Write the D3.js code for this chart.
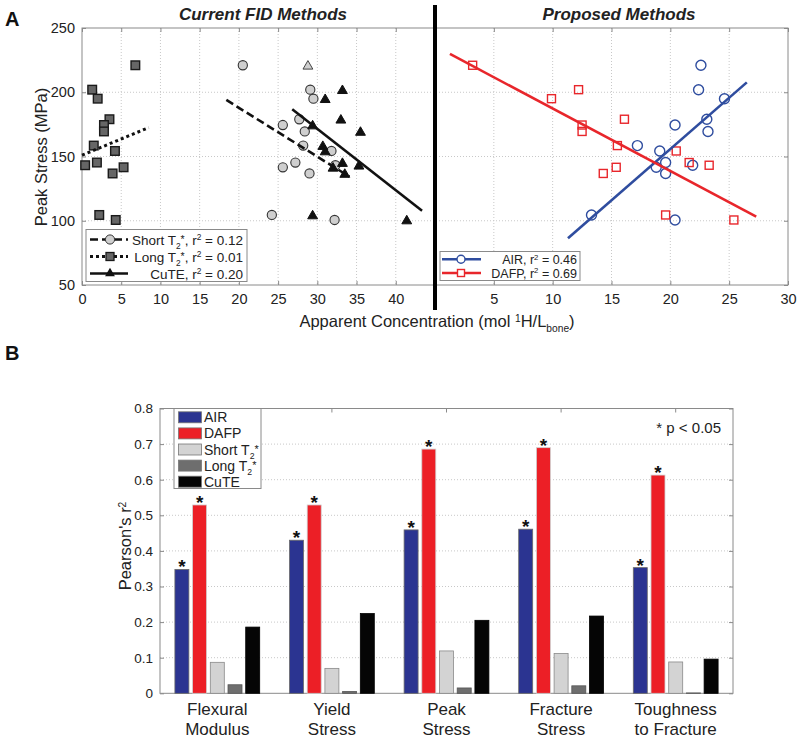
<!DOCTYPE html>
<html><head><meta charset="utf-8">
<script src="https://cdn.jsdelivr.net/npm/d3@7"></script>
<style>body{margin:0;background:#fff}svg{display:block;font-family:"Liberation Sans",Arial,Helvetica,sans-serif}</style>
</head><body><svg id="c" width="800" height="740"></svg>
<script>
// ---------- Panel A data ----------
const peakStress = [221, 202, 195, 179, 174.5, 169.5, 158.5, 154.3, 145.3, 143.2, 141.6, 136.8, 104.5, 100.6];
const shortT2X = [20.5, 29.1, 29.5, 27.7, 25.6, 28.4, 28.2, 31.8, 27.2, 32.3, 25.6, 29.0, 24.2, 32.2];
const longT2X  = [6.8, 1.3, 2.0, 3.5, 2.8, 2.8, 1.5, 4.2, 1.9, 0.4, 5.3, 3.9, 2.2, 4.3];
const cuteX    = [28.8, 33.2, 31.0, 33.0, 29.4, 35.5, 30.7, 31.0, 33.2, 35.3, 32.0, 33.5, 29.4, 41.4];
const airX     = [22.6, 22.4, 24.6, 23.1, 20.4, 23.2, 17.2, 19.1, 19.6, 21.9, 18.8, 19.6, 13.3, 20.4];
const dafpX    = [3.2, 12.2, 9.9, 16.1, 12.5, 12.5, 15.5, 20.5, 21.6, 23.3, 15.4, 14.3, 19.6, 25.4];
const shortFitX = [18.4, 34.1], shortFitY = [194, 134.3];
const longFitX  = [0, 8.5],     longFitY  = [151, 172.5];
const cuteFitX  = [26.8, 43.35], cuteFitY = [186.7, 107.8];
const airFitX   = [11.3, 26.5], airFitY   = [86.3, 207.7];
const dafpFitX  = [1.27, 27.3], dafpFitY  = [229.8, 103.2];
const yTicksA = [50, 100, 150, 200, 250];
const xTicksLeft = [0, 5, 10, 15, 20, 25, 30, 35, 40];
const xTicksRight = [5, 10, 15, 20, 25, 30];

// ---------- Panel B data ----------
const categories = [["Flexural","Modulus"],["Yield","Stress"],["Peak","Stress"],["Fracture","Stress"],["Toughness","to Fracture"]];
const seriesNames = ["AIR","DAFP","Short","Long","CuTE"];
const airR2   = [0.348, 0.430, 0.459, 0.461, 0.353];
const dafpR2  = [0.529, 0.529, 0.686, 0.690, 0.613];
const shortR2 = [0.087, 0.070, 0.119, 0.112, 0.088];
const longR2  = [0.024, 0.005, 0.015, 0.021, 0.001];
const cuteR2  = [0.186, 0.224, 0.205, 0.217, 0.096];
const significant = ["AIR","DAFP"];
const yTicksB = [0, 0.1, 0.2, 0.3, 0.4, 0.5, 0.6, 0.7, 0.8];

const svg = d3.select("#c");
const BLUE = "#2f4d9f", RED = "#e8262b";
const GRID = "#c8c8c8", AX = "#8a8a8a";

function rich(sel, parts, size) {
  let cur = 0;
  parts.forEach(p => {
    const ts = sel.append("tspan").text(p.t);
    const off = p.s === "sub" ? size * 0.3 : p.s === "sup" ? -size * 0.33 : p.s === "star" ? -size * 0.12 : 0;
    if (off - cur !== 0) ts.attr("dy", off - cur);
    cur = off;
    if (p.s === "sub" || p.s === "sup") ts.attr("font-size", size * 0.62);
    if (p.s === "star") ts.attr("font-size", size * 0.78);
  });
  return sel;
}

// ================= PANEL A =================
const yA = d3.scaleLinear().domain([50, 250]).range([285, 28]);
const xL = d3.scaleLinear().domain([0, 45]).range([82, 435]);
const xR = d3.scaleLinear().domain([0, 30]).range([435, 788]);
const gA = svg.append("g");

yTicksA.slice(1, -1).forEach(v => {
  gA.append("line").attr("x1", 82).attr("x2", 788).attr("y1", yA(v)).attr("y2", yA(v))
    .attr("stroke", GRID).attr("stroke-dasharray", "1,2");
});
xTicksLeft.slice(1).forEach(v => {
  gA.append("line").attr("x1", xL(v)).attr("x2", xL(v)).attr("y1", 28).attr("y2", 285)
    .attr("stroke", GRID).attr("stroke-dasharray", "1,2");
});
xTicksRight.slice(0, -1).forEach(v => {
  gA.append("line").attr("x1", xR(v)).attr("x2", xR(v)).attr("y1", 28).attr("y2", 285)
    .attr("stroke", GRID).attr("stroke-dasharray", "1,2");
});
gA.append("rect").attr("x", 82).attr("y", 28).attr("width", 706).attr("height", 257)
  .attr("fill", "none").attr("stroke", AX).attr("stroke-width", 1);
const styleTicks = g => { g.select(".domain").remove(); g.selectAll("line").attr("stroke", AX);
  g.selectAll("text").attr("font-size", 14.5).attr("font-family", null).attr("fill", "#222"); };
gA.append("g").attr("transform", "translate(82,0)")
  .call(d3.axisLeft(yA).tickValues(yTicksA).tickSizeInner(-4).tickSizeOuter(0).tickPadding(7)).call(styleTicks);
gA.append("g").attr("transform", "translate(788,0)")
  .call(d3.axisRight(yA).tickValues(yTicksA).tickSize(-4).tickFormat("")).call(styleTicks);
gA.append("g").attr("transform", "translate(0,285)")
  .call(d3.axisBottom(xL).tickValues(xTicksLeft).tickSizeInner(-4).tickSizeOuter(0).tickPadding(9)).call(styleTicks);
gA.append("g").attr("transform", "translate(0,285)")
  .call(d3.axisBottom(xR).tickValues(xTicksRight).tickSizeInner(-4).tickSizeOuter(0).tickPadding(9)).call(styleTicks);
gA.append("g").attr("transform", "translate(0,28)")
  .call(d3.axisTop(xL).tickValues(xTicksLeft).tickSize(-4).tickFormat("")).call(styleTicks);
gA.append("g").attr("transform", "translate(0,28)")
  .call(d3.axisTop(xR).tickValues(xTicksRight).tickSize(-4).tickFormat("")).call(styleTicks);

// markers
const tri = d3.symbol().type(d3.symbolTriangle).size(42);
peakStress.forEach((p, i) => {
  gA.append("circle").attr("cx", xL(shortT2X[i])).attr("cy", yA(p)).attr("r", 4.6)
    .attr("fill", "#cfcfcf").attr("stroke", "#333").attr("stroke-width", 1.1);
});
peakStress.forEach((p, i) => {
  gA.append("rect").attr("x", xL(longT2X[i]) - 4.3).attr("y", yA(p) - 4.3).attr("width", 8.6).attr("height", 8.6)
    .attr("fill", "#666").attr("stroke", "#1a1a1a").attr("stroke-width", 1.4);
});
peakStress.forEach((p, i) => {
  gA.append("path").attr("d", tri).attr("transform", `translate(${xL(cuteX[i])},${yA(p) + 1})`)
    .attr("fill", i === 0 ? "#cfcfcf" : "#111").attr("stroke", i === 0 ? "#444" : "#111").attr("stroke-width", 1);
});
peakStress.forEach((p, i) => {
  gA.append("circle").attr("cx", xR(airX[i])).attr("cy", yA(p)).attr("r", 5)
    .attr("fill", "none").attr("stroke", BLUE).attr("stroke-width", 1.4);
});
peakStress.forEach((p, i) => {
  gA.append("rect").attr("x", xR(dafpX[i]) - 4).attr("y", yA(p) - 4).attr("width", 8).attr("height", 8)
    .attr("fill", "none").attr("stroke", RED).attr("stroke-width", 1.4);
});

function fit(xs, ys, sx, color, dash, w) {
  gA.append("line").attr("x1", sx(xs[0])).attr("y1", yA(ys[0])).attr("x2", sx(xs[1])).attr("y2", yA(ys[1]))
    .attr("stroke", color).attr("stroke-width", w).attr("stroke-dasharray", dash);
}
fit(shortFitX, shortFitY, xL, "#111", "8,4", 2.6);
fit(longFitX, longFitY, xL, "#111", "3,3", 3);
fit(cuteFitX, cuteFitY, xL, "#111", null, 2.6);
fit(airFitX, airFitY, xR, BLUE, null, 2.6);
fit(dafpFitX, dafpFitY, xR, RED, null, 2.6);

// legend A left
gA.append("rect").attr("x", 86).attr("y", 229.5).attr("width", 161).attr("height", 52)
  .attr("fill", "#fff").attr("stroke", AX);
const legL = [
  {y: 239.5, dash: "8,4", w: 2.6, mk: "circle", parts: [{t:"Short T"},{t:"2",s:"sub"},{t:"*",s:"star"},{t:", r"},{t:"2",s:"sup"},{t:" = 0.12"}]},
  {y: 256.5, dash: "3,3", w: 3, mk: "square", parts: [{t:"Long T"},{t:"2",s:"sub"},{t:"*",s:"star"},{t:", r"},{t:"2",s:"sup"},{t:" = 0.01"}]},
  {y: 273.5, dash: null, w: 2.6, mk: "tri", parts: [{t:"CuTE, r"},{t:"2",s:"sup"},{t:" = 0.20"}]}
];
legL.forEach(d => {
  gA.append("line").attr("x1", 90).attr("x2", 128).attr("y1", d.y).attr("y2", d.y)
    .attr("stroke", "#111").attr("stroke-width", d.w).attr("stroke-dasharray", d.dash);
  if (d.mk === "circle") gA.append("circle").attr("cx", 110).attr("cy", d.y).attr("r", 4.6).attr("fill", "#cfcfcf").attr("stroke", "#333");
  if (d.mk === "square") gA.append("rect").attr("x", 106).attr("y", d.y - 4).attr("width", 8).attr("height", 8).attr("fill", "#666").attr("stroke", "#1a1a1a").attr("stroke-width", 1.3);
  if (d.mk === "tri") gA.append("path").attr("d", tri).attr("transform", `translate(110,${d.y})`).attr("fill", "#111");
  rich(gA.append("text").attr("x", 243).attr("y", d.y + 5).attr("text-anchor", "end").attr("font-size", 13.5).attr("fill", "#222"), d.parts, 13.5);
});
// legend A right
gA.append("rect").attr("x", 440).attr("y", 251.5).attr("width", 140).attr("height", 29)
  .attr("fill", "#fff").attr("stroke", AX);
const legR = [
  {y: 259.3, c: BLUE, mk: "circle", parts: [{t:"AIR, r"},{t:"2",s:"sup"},{t:" = 0.46"}]},
  {y: 273.0, c: RED, mk: "square", parts: [{t:"DAFP, r"},{t:"2",s:"sup"},{t:" = 0.69"}]}
];
legR.forEach(d => {
  gA.append("line").attr("x1", 442).attr("x2", 481).attr("y1", d.y).attr("y2", d.y).attr("stroke", d.c).attr("stroke-width", 2.4);
  if (d.mk === "circle") gA.append("circle").attr("cx", 461).attr("cy", d.y).attr("r", 4).attr("fill", "#fff").attr("stroke", d.c).attr("stroke-width", 1.4);
  else gA.append("rect").attr("x", 457.5).attr("y", d.y - 3.5).attr("width", 7).attr("height", 7).attr("fill", "#fff").attr("stroke", d.c).attr("stroke-width", 1.4);
  rich(gA.append("text").attr("x", 577).attr("y", d.y + 4.5).attr("text-anchor", "end").attr("font-size", 12.5).attr("fill", "#222"), d.parts, 12.5);
});

// divider
svg.append("line").attr("x1", 435).attr("x2", 435).attr("y1", 5).attr("y2", 310).attr("stroke", "#000").attr("stroke-width", 4);

// titles & labels A
svg.append("text").attr("x", 263).attr("y", 20).attr("text-anchor", "middle").attr("font-size", 17)
  .attr("font-weight", "bold").attr("font-style", "italic").attr("fill", "#222").text("Current FID Methods");
svg.append("text").attr("x", 619).attr("y", 20).attr("text-anchor", "middle").attr("font-size", 17)
  .attr("font-weight", "bold").attr("font-style", "italic").attr("fill", "#222").text("Proposed Methods");
svg.append("text").attr("x", 5).attr("y", 26).attr("font-size", 20).attr("font-weight", "bold").attr("fill", "#111").text("A");
svg.append("text").attr("transform", "translate(47,157) rotate(-90)").attr("text-anchor", "middle")
  .attr("font-size", 16.5).attr("fill", "#222").text("Peak Stress (MPa)");
rich(svg.append("text").attr("x", 437).attr("y", 327).attr("text-anchor", "middle").attr("font-size", 16.5).attr("fill", "#222"),
  [{t:"Apparent Concentration (mol "},{t:"1",s:"sup"},{t:"H/L"},{t:"bone",s:"sub"},{t:")"}], 16.5);

// ================= PANEL B =================
const seriesVals = [airR2, dafpR2, shortR2, longR2, cuteR2];
const seriesFill = ["#2b3491", "#ec1f26", "#d3d3d3", "#6e6e6e", "#050505"];
const seriesStroke = ["#6a6a6a", "#d0d0d0", "#8a8a8a", "#555", "#000"];
const yB = d3.scaleLinear().domain([0, 0.8]).range([693.3, 408.5]);
const xB = d3.scaleBand().domain(categories.map(c => c.join(" "))).range([160, 733]).padding(0);
const bw = xB.bandwidth();
const xInner = d3.scaleBand().domain(seriesNames).range([bw / 2 - 42.4, bw / 2 + 42.4]).paddingInner(0.21).paddingOuter(0);
const gB = svg.append("g");

yTicksB.slice(1, -1).forEach(v => {
  gB.append("line").attr("x1", 160).attr("x2", 733).attr("y1", yB(v)).attr("y2", yB(v))
    .attr("stroke", GRID).attr("stroke-dasharray", "1,2");
});
gB.append("rect").attr("x", 160).attr("y", 408.5).attr("width", 573).attr("height", 284.8)
  .attr("fill", "none").attr("stroke", AX);
gB.append("g").attr("transform", "translate(160,0)")
  .call(d3.axisLeft(yB).tickValues(yTicksB).tickSizeInner(-4).tickSizeOuter(0).tickPadding(7).tickFormat(d => d === 0 ? "0" : d3.format(".1f")(d)))
  .call(g => { g.select(".domain").remove(); g.selectAll("line").attr("stroke", AX);
    g.selectAll("text").attr("font-size", 13.5).attr("font-family", null).attr("fill", "#222"); });
gB.append("g").attr("transform", "translate(733,0)").call(d3.axisRight(yB).tickValues(yTicksB).tickSize(-4).tickFormat(""))
  .call(g => { g.select(".domain").remove(); g.selectAll("line").attr("stroke", AX); });
gB.append("g").attr("transform", "translate(0,408.5)").call(d3.axisTop(xB).tickSize(-4).tickFormat(""))
  .call(g => { g.select(".domain").remove(); g.selectAll("line").attr("stroke", AX); });

categories.forEach((c, ci) => {
  const gx = xB(c.join(" "));
  seriesNames.forEach((s, si) => {
    const v = seriesVals[si][ci];
    const x = gx + xInner(s);
    gB.append("rect").attr("x", x).attr("y", yB(v)).attr("width", xInner.bandwidth()).attr("height", yB(0) - yB(v))
      .attr("fill", seriesFill[si]).attr("stroke", seriesStroke[si]).attr("stroke-width", 0.8);
    if (significant.includes(s)) {
      gB.append("text").attr("x", x + xInner.bandwidth() / 2).attr("y", yB(v) + 4).attr("text-anchor", "middle")
        .attr("font-size", 19).attr("font-weight", "bold").attr("fill", "#111").text("*");
    }
  });
  c.forEach((line, li) => {
    gB.append("text").attr("x", gx + bw / 2).attr("y", 715 + li * 19.5).attr("text-anchor", "middle")
      .attr("font-size", 17).attr("fill", "#222").text(line);
  });
});

// legend B
gB.append("rect").attr("x", 174).attr("y", 408.5).attr("width", 87).attr("height", 80).attr("fill", "#fff").attr("stroke", AX);
const legB = [
  [{t:"AIR"}], [{t:"DAFP"}], [{t:"Short T"},{t:"2",s:"sub"},{t:"*",s:"star"}], [{t:"Long T"},{t:"2",s:"sub"},{t:"*",s:"star"}], [{t:"CuTE"}]
];
legB.forEach((parts, i) => {
  const cy = 417.3 + i * 16.1;
  gB.append("rect").attr("x", 178.5).attr("y", cy - 5.5).attr("width", 23).attr("height", 11)
    .attr("fill", seriesFill[i]).attr("stroke", "#777").attr("stroke-width", 0.8);
  rich(gB.append("text").attr("x", 204).attr("y", cy + 5).attr("font-size", 14).attr("fill", "#222"), parts, 14);
});
gB.append("text").attr("x", 721).attr("y", 433).attr("text-anchor", "end").attr("font-size", 15).attr("fill", "#222").text("* p < 0.05");
svg.append("text").attr("x", 5).attr("y", 360).attr("font-size", 20).attr("font-weight", "bold").attr("fill", "#111").text("B");
rich(svg.append("text").attr("transform", "translate(131,546) rotate(-90)").attr("text-anchor", "middle")
  .attr("font-size", 16.5).attr("fill", "#222"), [{t:"Pearson's r"},{t:"2",s:"sup"}], 16.5);
</script></body></html>
